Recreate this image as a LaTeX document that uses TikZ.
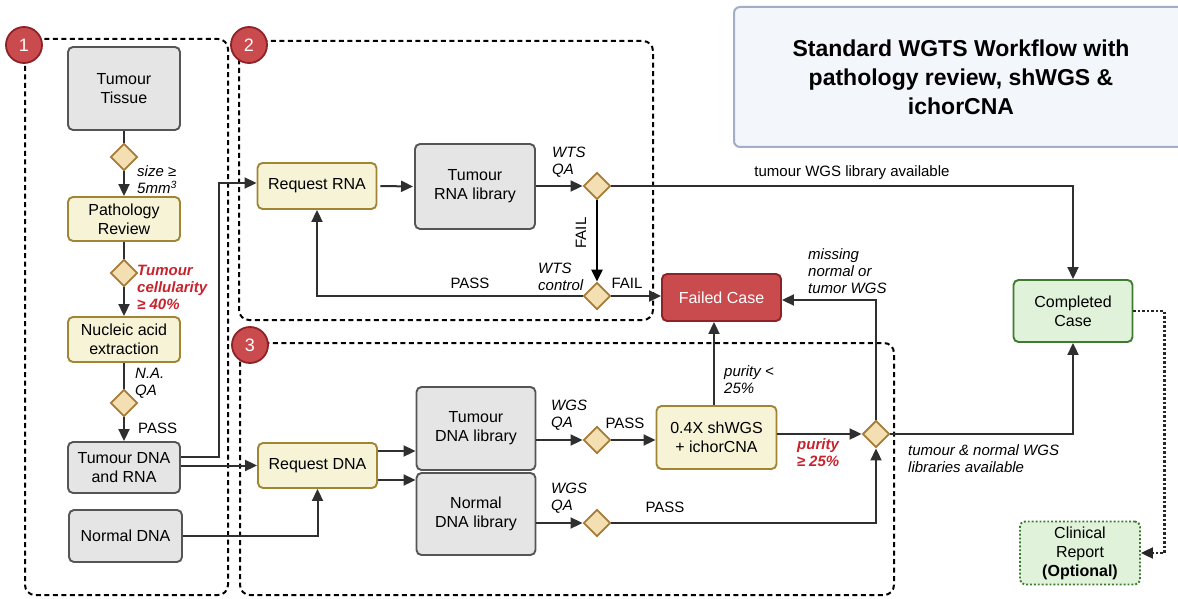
\documentclass[tikz,border=0pt]{standalone}
\usepackage{fontspec}
\setmainfont{Liberation Sans}
\usetikzlibrary{shapes.geometric,arrows.meta,calc}
\definecolor{grayfill}{HTML}{E5E5E5}
\definecolor{grayline}{HTML}{555555}
\definecolor{yelfill}{HTML}{F6F3D6}
\definecolor{yelline}{HTML}{A08534}
\definecolor{diafill}{HTML}{F3DFB2}
\definecolor{dialine}{HTML}{A67B38}
\definecolor{redfill}{HTML}{C94B4E}
\definecolor{redline}{HTML}{8E2327}
\definecolor{greenfill}{HTML}{E1F2DB}
\definecolor{greenline}{HTML}{3E7B30}
\definecolor{titlefill}{HTML}{F3F6FB}
\definecolor{titleline}{HTML}{A4ADC6}
\definecolor{redtext}{HTML}{C8232C}
\definecolor{lineclr}{HTML}{2F2F2F}
\tikzset{
  box/.style={rounded corners=5pt, line width=1.9pt, align=center, inner sep=0pt, font=\fontsize{16}{19}\selectfont},
  graybox/.style={box, draw=grayline, fill=grayfill},
  yelbox/.style={box, draw=yelline, fill=yelfill},
  redbox/.style={box, draw=redline, fill=redfill, text=white},
  greenbox/.style={box, draw=greenline, fill=greenfill},
  optbox/.style={box, draw=greenline, fill=greenfill, dotted},
  dec/.style={diamond, draw=dialine, fill=diafill, line width=1.9pt, minimum width=27pt, minimum height=27pt, inner sep=0pt},
  cline/.style={draw=lineclr, line width=2pt},
  tip/.style={-{Triangle[length=12pt,width=11pt]}},
  arr/.style={cline, tip},
  lab/.style={font=\fontsize{15}{17}\selectfont\itshape, align=left, inner sep=0pt},
  redlab/.style={font=\fontsize{15}{17}\selectfont\bfseries\itshape, align=left, inner sep=0pt, text=redtext},
  plainlab/.style={font=\fontsize{15}{17}\selectfont, inner sep=0pt},
  grp/.style={draw=black, line width=2pt, dash pattern=on 5pt off 3.5pt, rounded corners=10pt},
  badge/.style={circle, draw=redline, fill=redfill, line width=1.8pt, minimum size=36pt, inner sep=0pt, text=white, font=\fontsize{18}{18}\selectfont},
  titlebox/.style={draw=titleline, fill=titlefill, line width=2pt, rounded corners=6pt, align=center, inner sep=0pt, font=\fontsize{23}{29}\selectfont\bfseries}
}
\begin{document}
\begin{tikzpicture}[x=1pt,y=-1pt]
\useasboundingbox (0,0) rectangle (1178,599);
% groups
\draw[grp] (25,39) rectangle (228,595);
\draw[grp] (239,41) rectangle (653,320);
\draw[grp] (240,343) rectangle (894,595);
% title
\node[titlebox, minimum width=454pt, minimum height=140pt] (title) at (961,77) {Standard WGTS Workflow with\\pathology review, shWGS \&\\ichorCNA};
% column 1
\node[graybox, minimum width=112pt, minimum height=83pt] (tissue) at (124,88.5) {Tumour\\Tissue};
\node[dec] (d1) at (124,157) {};
\node[yelbox, minimum width=112pt, minimum height=44pt] (path) at (124,219) {Pathology\\Review};
\node[dec] (d2) at (124,273) {};
\node[yelbox, minimum width=112pt, minimum height=45pt] (nae) at (124,339.5) {Nucleic acid\\extraction};
\node[dec] (d3) at (124,403) {};
\node[graybox, minimum width=112pt, minimum height=51pt] (tdr) at (124,467.5) {Tumour DNA\\and RNA};
\node[graybox, minimum width=113pt, minimum height=52pt] (ndna) at (125.5,536) {Normal DNA};
% RNA branch
\node[yelbox, minimum width=119pt, minimum height=46pt] (reqrna) at (317,186) {Request RNA};
\node[graybox, minimum width=120pt, minimum height=85pt] (rnalib) at (475,186.5) {Tumour\\RNA library};
\node[dec] (qa1) at (597,186) {};
\node[dec] (ctrl) at (597,296) {};
\node[redbox, minimum width=119pt, minimum height=47pt] (failed) at (721.5,297.5) {Failed Case};
\node[greenbox, minimum width=119pt, minimum height=62pt] (completed) at (1073,311) {Completed\\Case};
\node[optbox, minimum width=120pt, minimum height=63pt] (clinical) at (1080,553) {Clinical\\Report\\\textbf{(Optional)}};
% DNA branch
\node[yelbox, minimum width=119pt, minimum height=45pt] (reqdna) at (317.5,465.5) {Request DNA};
\node[graybox, minimum width=119pt, minimum height=83pt] (tdnalib) at (476,428.5) {Tumour\\DNA library};
\node[graybox, minimum width=119pt, minimum height=82pt] (ndnalib) at (476,514) {Normal\\DNA library};
\node[dec] (qa2) at (597,440) {};
\node[dec] (qa3) at (597,523) {};
\node[yelbox, minimum width=120pt, minimum height=63pt] (shwgs) at (716.5,437.5) {0.4X shWGS\\+ ichorCNA};
\node[dec] (fin) at (876,434) {};
% connectors column 1
\draw[cline] (tissue.south) -- (d1.north);
\draw[arr] (d1.south) -- (path.north);
\draw[cline] (path.south) -- (d2.north);
\draw[arr] (d2.south) -- (nae.north);
\draw[cline] (nae.south) -- (d3.north);
\draw[arr] (d3.south) -- (tdr.north);
\draw[arr] ($(tdr.east)+(0,-10.5)$) -- ++(38,0) |- ([yshift=3pt]reqrna.west);
\draw[arr] (tdr.east |- reqdna.west) -- (reqdna.west);
\draw[arr] (ndna.east) -| (reqdna.south);
% RNA connectors
\draw[arr] ([xshift=3pt]reqrna.east) -- ([xshift=-1pt]rnalib.west);
\draw[arr] (rnalib.east |- qa1.west) -- (qa1.west);
\draw[draw=black, line width=2.8pt, tip] (qa1.south) -- (ctrl.north);
\draw[arr] (ctrl.east) -- (ctrl.east -| failed.west);
\draw[arr] (ctrl.west) -| (reqrna.south);
\draw[arr] (qa1.east) -| (completed.north);
\draw[draw=black!85, line width=2.2pt, dash pattern=on 2.5pt off 2pt, tip] (completed.east) -- ++(31,0) |- (clinical.east);
% DNA connectors
\coordinate (r1) at ($(reqdna.east)+(0,-14.5)$);
\coordinate (r2) at ($(reqdna.east)+(0,14.5)$);
\draw[arr] (r1) -- (r1 -| tdnalib.west);
\draw[arr] (r2) -- (r2 -| ndnalib.west);
\draw[arr] (tdnalib.east |- qa2.west) -- (qa2.west);
\draw[arr] (qa2.east) -- (qa2.east -| shwgs.west);
\draw[arr] ([xshift=-2.5pt]shwgs.north) -- ([xshift=-2.5pt]shwgs.north |- failed.south);
\draw[arr] (shwgs.east |- fin.west) -- (fin.west);
\draw[arr] (ndnalib.east |- qa3.west) -- (qa3.west);
\draw[arr] (qa3.east) -| (fin.south);
\draw[arr] (fin.north) |- ([yshift=-2.5pt]failed.east);
\draw[arr] (fin.east) -| (completed.south);
% badges
\node[badge] (b1) at (24,45) {1};
\node[badge] (b2) at (249,45) {2};
\node[badge] (b3) at (250,345) {3};
% labels
\node[lab, anchor=west] (l1) at (137,180) {size ≥\\5mm\textsuperscript{3}};
\node[redlab, anchor=west] (l2) at (137,287.5) {Tumour\\cellularity\\≥ 40\%};
\node[lab, anchor=west] (l3) at (135,383.5) {N.A.\\QA};
\node[plainlab, anchor=west] (l4) at (138,428) {PASS};
\node[lab, anchor=west] (l5) at (552,162) {WTS\\QA};
\node[plainlab, rotate=90] (l6) at (581,233) {FAIL};
\node[lab, anchor=west] (l7) at (538,277) {WTS\\control};
\node[plainlab] (l8) at (627,283) {FAIL};
\node[plainlab] (l9) at (470,283) {PASS};
\node[plainlab] (l10) at (852,173) {tumour WGS library available};
\node[lab, anchor=west] (l11) at (808,271.5) {missing\\normal or\\tumor WGS};
\node[lab, anchor=west] (l12) at (724,380) {purity <\\25\%};
\node[redlab, align=center] (l13) at (818,452.5) {purity\\≥ 25\%};
\node[lab, anchor=west] (l14) at (551,415) {WGS\\QA};
\node[plainlab] (l15) at (625,423) {PASS};
\node[lab, anchor=west] (l16) at (551,498) {WGS\\QA};
\node[plainlab] (l17) at (665,507) {PASS};
\node[lab, anchor=west] (l18) at (908,458.5) {tumour \& normal WGS\\libraries available};
\end{tikzpicture}
\end{document}
